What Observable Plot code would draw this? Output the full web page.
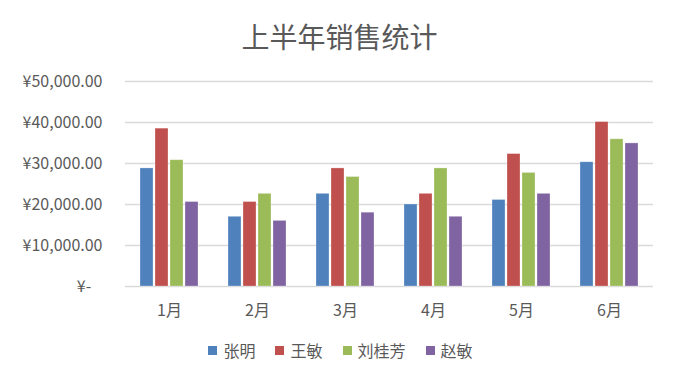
<!DOCTYPE html>
<html>
<head>
<meta charset="utf-8">
<script src="https://cdn.jsdelivr.net/npm/d3@7"></script>
<script src="https://cdn.jsdelivr.net/npm/@observablehq/plot@0.6"></script>
<style>
  html, body { margin: 0; padding: 0; background: #fff; }
  body { width: 677px; height: 384px; overflow: hidden; font-family: "Noto Sans CJK SC", "Noto Sans", sans-serif; color: #595959; }
  #title { height: 60px; line-height: 60px; text-align: center; font-size: 28px; padding-top: 6px; padding-left: 2px; box-sizing: border-box; }
  #chart svg { display: block; }
  #legend { display: flex; justify-content: center; align-items: center; gap: 20px; font-size: 16px; margin-top: 12px; padding-left: 4px; }
  .item { display: flex; align-items: center; gap: 6px; }
  .sw { width: 9px; height: 9px; display: inline-block; }
</style>
</head>
<body>
<div id="title">上半年销售统计</div>
<div id="chart"></div>
<div id="legend"></div>
<script>
const months = ["1月", "2月", "3月", "4月", "5月", "6月"];
const names = ["张明", "王敏", "刘桂芳", "赵敏"];
const zhangMing = [28800, 17000, 22600, 20000, 21100, 30300];
const wangMin = [38500, 20600, 28800, 22600, 32300, 40100];
const liuGuifang = [30800, 22600, 26700, 28800, 27700, 35900];
const zhaoMin = [20600, 16000, 18000, 17000, 22600, 34900];
const yTicks = [0, 10000, 20000, 30000, 40000, 50000];
const colors = ["#4F81BD", "#C0504D", "#9BBB59", "#8064A2"];

const series = [zhangMing, wangMin, liuGuifang, zhaoMin];
const data = [];
months.forEach((m, i) => names.forEach((n, j) => data.push({month: m, name: n, value: series[j][i]})));

const fmt = d3.format(",.2f");
const chart = Plot.plot({
  width: 677,
  height: 266,
  marginLeft: 125,
  marginRight: 24,
  marginTop: 21,
  marginBottom: 40,
  style: {fontFamily: '"Noto Sans CJK SC", "Noto Sans", sans-serif', fontSize: "16px", color: "#595959", background: "#fff"},
  fx: {domain: months, padding: 0},
  x: {domain: names, axis: null, paddingInner: 0.13, paddingOuter: 0.94},
  y: {domain: [0, 50000], axis: null},
  color: {domain: names, range: colors},
  marks: [
    Plot.ruleY(yTicks, {stroke: "#d9d9d9", strokeWidth: 1.3}),
    Plot.barY(data, {fx: "month", x: "name", y: "value", fill: "name", stroke: "white", strokeOpacity: 0.35, strokeWidth: 0.8}),
    Plot.axisY(yTicks, {tickSize: 0, tickPadding: 23, fontSize: 16, fill: "#595959",
      tickFormat: d => d === 0 ? "¥-\u2002\u2009" : "¥" + fmt(d), label: null}),
    Plot.axisFx({anchor: "bottom", tickSize: 0, tickPadding: 18, fontSize: 16, fill: "#595959", label: null})
  ]
});
document.getElementById("chart").appendChild(chart);

const legend = document.getElementById("legend");
names.forEach((n, i) => {
  const it = document.createElement("div");
  it.className = "item";
  const sw = document.createElement("span");
  sw.className = "sw";
  sw.style.background = colors[i];
  const tx = document.createElement("span");
  tx.textContent = n;
  it.appendChild(sw);
  it.appendChild(tx);
  legend.appendChild(it);
});
</script>
</body>
</html>
